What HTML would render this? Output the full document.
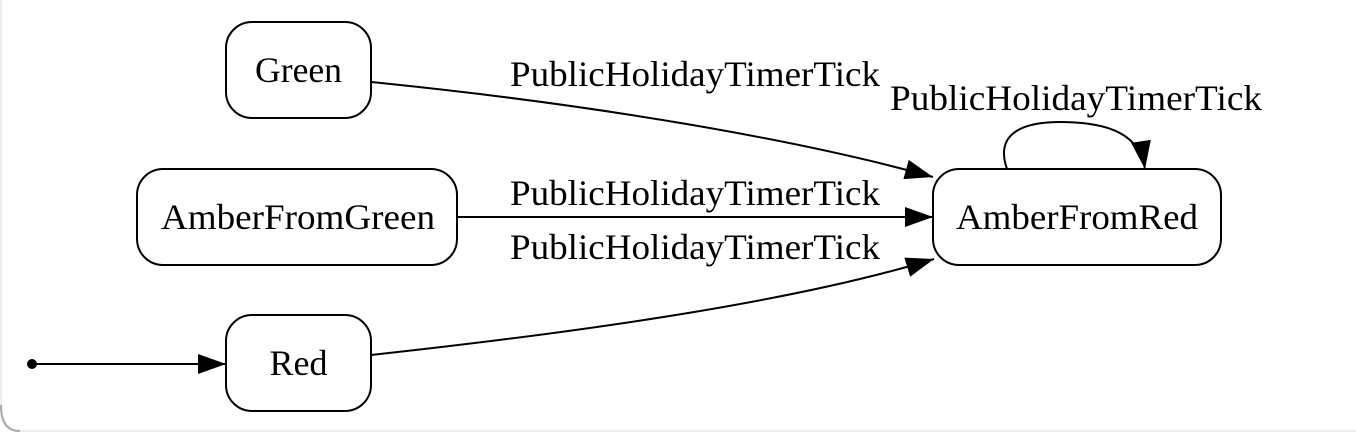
<!DOCTYPE html>
<html><head><meta charset="utf-8"><style>
html,body{margin:0;padding:0;background:#fff;}
svg{display:block;}
text{font-family:"Liberation Serif",serif;font-size:36px;fill:#000;}
</style></head><body>
<svg width="1356" height="432" viewBox="0 0 1356 432">
<path d="M1,0 V412 Q1,431 20,431 H1356" fill="none" stroke="#eeeeee" stroke-width="2"/>
<path d="M1,405 Q1,431 20,431" fill="none" stroke="#aaa" stroke-width="2"/>
<defs><marker id="ah" markerWidth="28" markerHeight="20" refX="28" refY="10" orient="auto" markerUnits="userSpaceOnUse"><path d="M0,0 L28,10 L0,20 Z" fill="#000"/></marker></defs>

<g>
<circle cx="32" cy="364" r="5" fill="#000"/>
<line x1="32" y1="364" x2="226" y2="364" stroke="#000" stroke-width="2" marker-end="url(#ah)"/>
</g>

<g>
<rect x="226" y="22" width="145" height="96" rx="26" fill="#fff" stroke="#000" stroke-width="2"/>
<text x="298.5" y="82" text-anchor="middle" textLength="87" lengthAdjust="spacingAndGlyphs">Green</text></g>
<g>
<rect x="137" y="169" width="320" height="96" rx="26" fill="#fff" stroke="#000" stroke-width="2"/>
<text x="298" y="229" text-anchor="middle" textLength="274" lengthAdjust="spacingAndGlyphs">AmberFromGreen</text></g>
<g>
<rect x="226" y="315" width="145" height="96" rx="26" fill="#fff" stroke="#000" stroke-width="2"/>
<text x="298.5" y="375" text-anchor="middle">Red</text></g>
<g>
<rect x="933" y="169" width="288" height="96" rx="26" fill="#fff" stroke="#000" stroke-width="2"/>
<text x="1077" y="229" text-anchor="middle" textLength="242" lengthAdjust="spacingAndGlyphs">AmberFromRed</text></g>

<g>
<path d="M371,82 C600,105 800,140 933,177" fill="none" stroke="#000" stroke-width="2" marker-end="url(#ah)"/>
<text x="510" y="86" textLength="370" lengthAdjust="spacingAndGlyphs">PublicHolidayTimerTick</text></g>
<g>
<line x1="457" y1="217" x2="933" y2="217" stroke="#000" stroke-width="2" marker-end="url(#ah)"/>
<text x="510" y="205" textLength="370" lengthAdjust="spacingAndGlyphs">PublicHolidayTimerTick</text></g>
<g>
<path d="M371,355 C600,330 800,300 934,259" fill="none" stroke="#000" stroke-width="2" marker-end="url(#ah)"/>
<text x="510" y="259" textLength="370" lengthAdjust="spacingAndGlyphs">PublicHolidayTimerTick</text></g>
<g>
<path d="M1007,169 C995,135 1020,122 1060,122 C1110,122 1140,135 1145,169" fill="none" stroke="#000" stroke-width="2" marker-end="url(#ah)"/>
<text x="890" y="110" textLength="372" lengthAdjust="spacingAndGlyphs">PublicHolidayTimerTick</text></g>
</svg>
</body></html>
